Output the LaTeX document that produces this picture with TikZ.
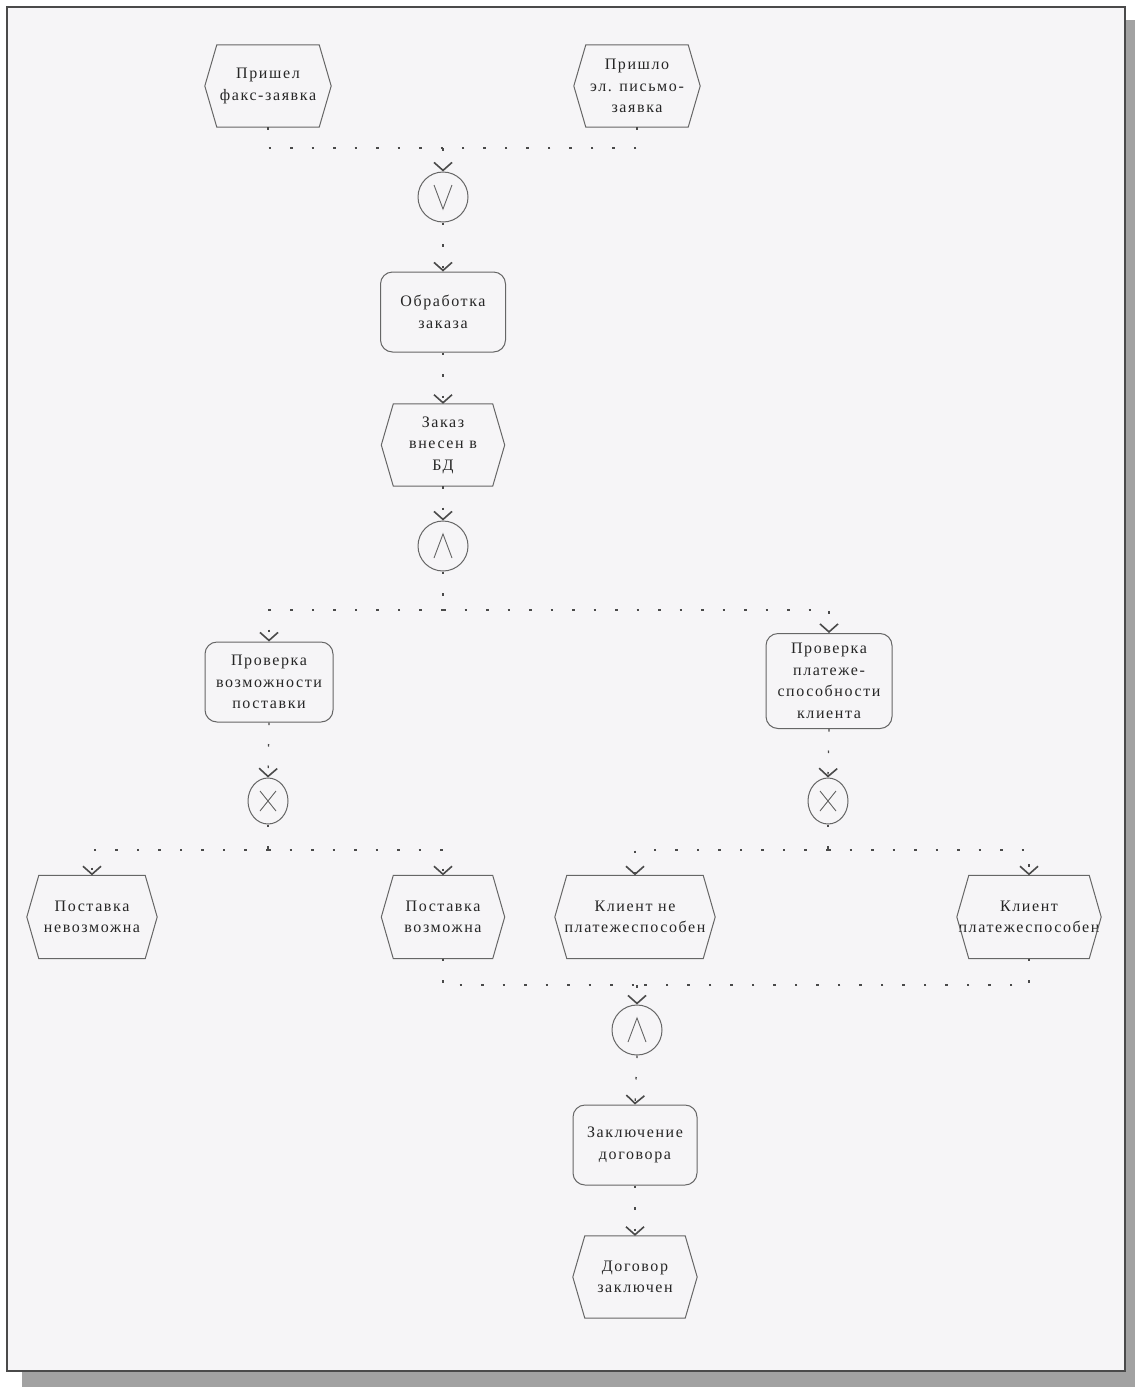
\documentclass[tikz,border=0pt]{standalone}
\usepackage{fontspec}
\setmainfont[LetterSpace=10]{Liberation Serif}
\usetikzlibrary{arrows.meta,shapes.geometric}
\definecolor{ink}{HTML}{262626}
\definecolor{edge}{HTML}{666666}
\definecolor{conn}{HTML}{4A4A4A}
\definecolor{paper}{HTML}{F6F5F7}
\definecolor{shadow}{HTML}{A2A2A2}
\tikzset{
  txt/.style={font=\fontsize{16}{21.5}\selectfont, text=ink, align=center, inner sep=0pt},
  evbox/.style={txt, rectangle, draw=none},
  evline/.style={draw=edge, line width=1pt, line join=miter},
  fnbox/.style={txt, rectangle, rounded corners=12pt, draw=edge, line width=1pt},
  opbox/.style={circle, draw=edge, line width=1pt, minimum size=50pt, inner sep=0pt},
  xorbox/.style={ellipse, draw=edge, line width=1pt, minimum width=40pt, minimum height=46pt, inner sep=0pt},
  sym/.style={draw=edge, line width=0.9pt},
  flow/.style={draw=conn, line width=1.3pt, dash pattern=on 2.5pt off 19pt},
  arr/.style={flow, -{Straight Barb[length=8pt,width=18pt,line width=1.6pt]}},
}
\begin{document}
\begin{tikzpicture}[x=1pt,y=-1pt]
\useasboundingbox (0,0) rectangle (1135,1387);
% frame with shadow
\fill[shadow] (1125,20) rectangle (1135,1387);
\fill[shadow] (22,1371) rectangle (1135,1387);
\fill[paper] (7,7) rectangle (1125,1371);
\draw[draw=conn, line width=1.5pt] (7,7) rectangle (1125,1371);

% events (hexagons drawn afterwards)
\node[evbox, minimum width=126pt, minimum height=82pt] (ev1) at (268,86) {Пришел\\факс-заявка};
\node[evbox, minimum width=126pt, minimum height=82pt] (ev2) at (637,86) {Пришло\\эл. письмо-\\заявка};
\node[evbox, minimum width=123pt, minimum height=82pt] (ev3) at (443,445) {Заказ\\внесен в\\БД};
\node[evbox, minimum width=130pt, minimum height=83pt] (ev4) at (92,917) {Поставка\\невозможна};
\node[evbox, minimum width=123pt, minimum height=83pt] (ev5) at (443,917) {Поставка\\возможна};
\node[evbox, minimum width=160pt, minimum height=83pt] (ev6) at (635,917) {Клиент не\\платежеспособен};
\node[evbox, minimum width=144pt, minimum height=83pt] (ev7) at (1029,917) {Клиент\\платежеспособен};
\node[evbox, minimum width=124pt, minimum height=82pt] (ev8) at (635,1277) {Договор\\заключен};

\foreach \n in {ev1,ev2,ev3,ev4,ev5,ev6,ev7,ev8}{
  \draw[evline] ([xshift=12pt]\n.north west) -- ([xshift=-12pt]\n.north east) -- (\n.east)
    -- ([xshift=-12pt]\n.south east) -- ([xshift=12pt]\n.south west) -- (\n.west) -- cycle;
}

% functions
\node[fnbox, minimum width=125pt, minimum height=80pt] (fn1) at (443,312) {Обработка\\заказа};
\node[fnbox, minimum width=128pt, minimum height=80pt] (fn2) at (269,682) {Проверка\\возможности\\поставки};
\node[fnbox, minimum width=126pt, minimum height=95pt] (fn3) at (829,681) {Проверка\\платеже-\\способности\\клиента};
\node[fnbox, minimum width=124pt, minimum height=80pt] (fn4) at (635,1145) {Заключение\\договора};

% connectors (operators)
\node[opbox] (or1) at (443,197) {};
\node[opbox] (and1) at (443,546) {};
\node[xorbox] (xor1) at (268,801) {};
\node[xorbox] (xor2) at (828,801) {};
\node[opbox] (and2) at (637,1030) {};

\draw[sym] ([shift={(-9,-12)}]or1.center) -- ([shift={(0,12)}]or1.center) -- ([shift={(9,-12)}]or1.center);
\foreach \n in {and1,and2}{
  \draw[sym] ([shift={(-9,12)}]\n.center) -- ([shift={(0,-12)}]\n.center) -- ([shift={(9,12)}]\n.center);
}
\foreach \n in {xor1,xor2}{
  \draw[sym] ([shift={(-8,-10)}]\n.center) -- ([shift={(8,10)}]\n.center);
  \draw[sym] ([shift={(-8,10)}]\n.center) -- ([shift={(8,-10)}]\n.center);
}

% junction points
\coordinate (j1) at (443,148);
\coordinate (j2) at (443,610);
\coordinate (j3) at (268,850);
\coordinate (j4) at (828,850);
\coordinate (j5) at (637,985);

% flows
\draw[flow] (ev1.south) |- (j1);
\draw[flow] (ev2.south) |- (j1);
\draw[arr] (j1) -- (or1.north);
\draw[arr] (or1.south) -- (fn1.north);
\draw[arr] (fn1.south) -- (ev3.north);
\draw[arr] (ev3.south) -- (and1.north);
\draw[flow] (and1.south) -- (j2);
\draw[arr] (j2) -| (fn2.north);
\draw[arr] (j2) -| (fn3.north);
\draw[arr] (fn2.south) -- (xor1.north);
\draw[arr] (fn3.south) -- (xor2.north);
\draw[flow] (xor1.south) -- (j3);
\draw[arr] (j3) -| (ev4.north);
\draw[arr] (j3) -| (ev5.north);
\draw[flow] (xor2.south) -- (j4);
\draw[arr] (j4) -| (ev6.north);
\draw[arr] (j4) -| (ev7.north);
\draw[flow] (ev5.south) |- (j5);
\draw[flow] (ev7.south) |- (j5);
\draw[arr] (j5) -- (and2.north);
\draw[arr] (and2.south) -- (fn4.north);
\draw[arr] (fn4.south) -- (ev8.north);
\end{tikzpicture}
\end{document}
